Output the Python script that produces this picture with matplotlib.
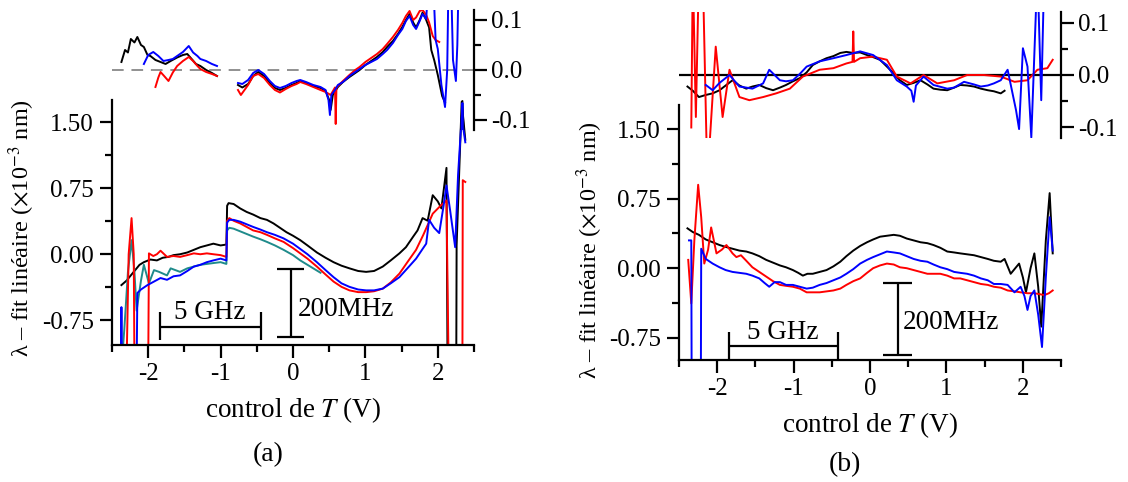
import numpy as np
import matplotlib
matplotlib.use("Agg")
import matplotlib.pyplot as plt
from matplotlib.ticker import MultipleLocator

plt.rcParams['font.family'] = ['Liberation Serif', 'DejaVu Serif']
plt.rcParams['mathtext.fontset'] = 'stix'
plt.rcParams['axes.unicode_minus'] = False

nan = np.nan
LOW = -1.3   # off-scale excursions (clipped by the axes)
HIGH = 0.2   # off-scale excursions in the insets

# ---------------- panel (a), main curves ----------------
a_black_x = [-2.37, -2.3, -2.2, -2.12, -2.06, -1.97, -1.88, -1.8, -1.72, -1.65, -1.56, -1.46, -1.37,
             -1.28, -1.19, -1.10, -1.0, -0.92, -0.91, -0.89, -0.82, -0.73, -0.64, -0.55, -0.45, -0.36,
             -0.27, -0.18, -0.09, 0.0, 0.10, 0.2, 0.33, 0.45, 0.56, 0.67, 0.78, 0.9, 1.01, 1.12, 1.24,
             1.35, 1.47, 1.56, 1.66, 1.72, 1.79, 1.86, 1.93, 2.0, 2.05, 2.12, 2.135, 2.255, 2.26, 2.33, 2.38]
a_black_y = [-0.35, -0.30, -0.20, -0.12, -0.09, -0.06, -0.07, -0.04, -0.03, -0.01, 0.0, 0.02, 0.05,
             0.08, 0.10, 0.12, 0.10, 0.11, 0.55, 0.58, 0.57, 0.52, 0.48, 0.45, 0.41, 0.39,
             0.35, 0.30, 0.25, 0.21, 0.16, 0.10, 0.02, -0.04, -0.09, -0.13, -0.16, -0.19, -0.20, -0.19, -0.14,
             -0.07, 0.01, 0.08, 0.20, 0.27, 0.41, 0.38, 0.67, 0.60, 0.52, 0.98, LOW, LOW, 0.10, 1.73, 1.30]

a_red_x = [-2.30, -2.27, -2.23, -2.20, -2.19, -2.0, -1.99, -1.93, -1.88, -1.83, -1.74, -1.65, -1.56,
           -1.46, -1.37, -1.28, -1.19, -1.1, -1.0, -0.92, -0.91, -0.88, -0.82, -0.73, -0.64, -0.55,
           -0.45, -0.36, -0.25, -0.13, 0.0, 0.10, 0.2, 0.33, 0.45, 0.56, 0.67, 0.78, 0.9, 1.01, 1.12,
           1.24, 1.35, 1.47, 1.58, 1.70, 1.80, 1.93, 2.05, 2.12, 2.15, 2.34, 2.345, 2.38]
a_red_y = [LOW, 0.0, 0.41, 0.0, LOW, LOW, 0.01, -0.02, 0.0, 0.04, -0.03, -0.02, -0.03,
           -0.01, 0.01, 0.0, 0.01, 0.0, -0.01, -0.03, 0.38, 0.41, 0.38, 0.35, 0.31, 0.27,
           0.25, 0.22, 0.18, 0.14, 0.07, 0.01, -0.05, -0.14, -0.23, -0.31, -0.37, -0.41, -0.43, -0.43, -0.42,
           -0.39, -0.32, -0.22, -0.09, 0.05, 0.22, 0.46, 0.56, 0.61, LOW, LOW, 0.84, 0.82]

a_blue_x = [-2.38, -2.37, -2.36, -2.16, -2.15, -2.10, -2.01, -1.92, -1.83, -1.74, -1.65, -1.56, -1.46,
            -1.37, -1.28, -1.19, -1.10, -1.0, -0.92, -0.91, -0.88, -0.82, -0.73, -0.64, -0.55, -0.45,
            -0.36, -0.25, -0.13, 0.0, 0.10, 0.2, 0.33, 0.45, 0.56, 0.67, 0.78, 0.9, 1.01, 1.12, 1.24,
            1.35, 1.47, 1.58, 1.70, 1.79, 1.84, 1.88, 1.95, 2.02, 2.08, 2.12, 2.17, 2.24, 2.28, 2.33, 2.38]
a_blue_y = [LOW, -0.60, LOW, LOW, -0.44, -0.40, -0.35, -0.31, -0.27, -0.29, -0.25, -0.24, -0.19,
            -0.14, -0.12, -0.09, -0.07, -0.05, -0.07, 0.36, 0.39, 0.39, 0.37, 0.34, 0.31, 0.28,
            0.25, 0.22, 0.18, 0.12, 0.06, 0.0, -0.09, -0.18, -0.26, -0.33, -0.37, -0.40, -0.41, -0.41, -0.39,
            -0.33, -0.26, -0.16, -0.05, 0.06, 0.12, 0.39, 0.30, 0.24, 0.55, 0.78, 0.50, 0.08, 0.90, 1.56, 1.27]

a_teal_x = [-2.37, -2.33, -2.28, -2.23, -2.19, -2.16, -2.10, -2.06, -1.99, -1.92, -1.85, -1.74, -1.69,
            -1.56, -1.46, -1.37, -1.28, -1.19, -1.1, -1.0, -0.92, -0.91, -0.88, -0.82, -0.73, -0.64,
            -0.55, -0.45, -0.36, -0.25, -0.13, 0.0, 0.10, 0.2, 0.30, 0.38]
a_teal_y = [LOW, -0.85, -0.20, 0.16, -0.20, -0.64, -0.30, -0.12, -0.33, -0.18, -0.20, -0.24, -0.16,
            -0.20, -0.16, -0.14, -0.12, -0.11, -0.10, -0.09, -0.11, 0.27, 0.30, 0.29, 0.26, 0.23,
            0.20, 0.17, 0.14, 0.10, 0.05, -0.01, -0.07, -0.12, -0.17, -0.21]

# ---------------- panel (a), inset (residuals) ----------------
ai_black_x = [-2.37, -2.32, -2.28, -2.24, -2.19, -2.15, -2.10, -2.06, -2.01, -1.97, -1.90, -1.83, -1.76,
              -1.69, -1.60, -1.52, -1.46, -1.40, -1.34, -1.28, -1.20, -1.12, -1.05, nan,
              -0.76, -0.70, -0.62, -0.55, -0.48, -0.40, -0.32, -0.25, -0.18, -0.10, -0.02, 0.05, 0.10,
              0.18, 0.28, 0.38, 0.45, 0.50, 0.52, 0.55, 0.62, 0.69, 0.78, 0.86, 0.92, 1.00, 1.08, 1.16,
              1.24, 1.30, 1.38, 1.45, 1.51, 1.56, 1.61, 1.66, 1.70, 1.75, 1.79, 1.84, 1.88, 1.91, 1.95,
              2.0, 2.06, 2.10, nan, 2.32, 2.34, 2.36]
ai_black_y = [0.016, 0.04, 0.035, 0.062, 0.055, 0.066, 0.05, 0.046, 0.03, 0.028, 0.02, 0.016, 0.012,
              0.018, 0.025, 0.03, 0.032, 0.022, 0.012, 0.008, 0.0, -0.006, -0.012, nan,
              -0.03, -0.035, -0.028, -0.012, -0.004, -0.012, -0.026, -0.036, -0.04, -0.036, -0.03, -0.026, -0.022,
              -0.026, -0.032, -0.036, -0.042, -0.06, -0.08, -0.05, -0.034, -0.024, -0.014, -0.006, 0.0, 0.01, 0.018, 0.026,
              0.036, 0.046, 0.058, 0.072, 0.086, 0.10, 0.112, 0.095, 0.085, 0.10, 0.115, 0.10, 0.085, 0.04, 0.02,
              -0.01, -0.052, -0.065, nan, -0.14, -0.062, -0.14]

ai_red_x = [-1.90, -1.86, -1.83, -1.78, -1.72, -1.66, -1.60, -1.52, -1.44, -1.38, -1.32, -1.28, -1.20,
            -1.12, -1.05, nan, -0.76, -0.72, -0.68, -0.62, -0.55, -0.48, -0.40, -0.32, -0.25, -0.18,
            -0.10, -0.02, 0.05, 0.10, 0.18, 0.28, 0.38, 0.45, 0.52, 0.58, 0.59, 0.60, 0.69, 0.78, 0.86,
            0.92, 1.00, 1.08, 1.16, 1.24, 1.30, 1.38, 1.45, 1.51, 1.56, 1.61, 1.66, 1.70, 1.75, 1.79,
            1.84, 1.88, 1.93, 1.97, 2.02]
ai_red_y = [-0.034, -0.015, -0.004, -0.012, -0.022, -0.005, 0.008, 0.018, 0.026, 0.018, 0.008, 0.002, -0.004,
            -0.008, -0.012, nan, -0.04, -0.05, -0.042, -0.03, -0.012, -0.008, -0.016, -0.03, -0.04, -0.045,
            -0.038, -0.032, -0.028, -0.024, -0.028, -0.034, -0.04, -0.044, -0.05, -0.035, -0.108, -0.035, -0.022, -0.01, 0.0,
            0.006, 0.016, 0.024, 0.032, 0.042, 0.052, 0.066, 0.08, 0.094, 0.108, 0.118, 0.10, 0.105, 0.118, 0.12,
            0.11, 0.095, 0.068, 0.06, 0.056]

ai_blue_x = [-2.06, -2.0, -1.93, -1.86, -1.79, -1.72, -1.66, -1.60, -1.52, -1.44, -1.38, -1.32, -1.28,
             -1.20, -1.12, -1.05, nan, -0.76, -0.70, -0.62, -0.55, -0.48, -0.40, -0.32, -0.25, -0.18,
             -0.10, -0.02, 0.05, 0.10, 0.18, 0.28, 0.38, 0.45, 0.49, 0.51, 0.53, 0.58, 0.62, 0.69, 0.78,
             0.86, 0.92, 1.00, 1.08, 1.16, 1.24, 1.30, 1.38, 1.45, 1.51, 1.56, 1.61, 1.66, 1.70, 1.75,
             1.79, 1.84, 1.88, 1.93, 1.97, 2.0, 2.05, 2.10, 2.13, 2.15, 2.18, 2.21, 2.25, 2.27, 2.29,
             nan, 2.33, 2.34, 2.35]
ai_blue_y = [0.012, 0.03, 0.036, 0.028, 0.018, 0.02, 0.022, 0.028, 0.036, 0.048, 0.035, 0.028, 0.022,
             0.018, 0.012, 0.008, nan, -0.026, -0.028, -0.02, -0.006, 0.0, -0.008, -0.022, -0.032, -0.036,
             -0.032, -0.026, -0.022, -0.02, -0.024, -0.03, -0.034, -0.04, -0.06, -0.09, -0.05, -0.04, -0.03, -0.024, -0.012,
             -0.004, 0.002, 0.01, 0.016, 0.022, 0.032, 0.04, 0.054, 0.07, 0.082, 0.098, 0.108, 0.09, 0.082, 0.098,
             0.112, 0.102, HIGH, HIGH, 0.06, 0.042, -0.03, -0.074, 0.0, HIGH, HIGH, 0.02, -0.022, 0.05, HIGH,
             nan, -HIGH, -0.066, -HIGH]

# ---------------- panel (b), main curves ----------------
b_black_x = [-2.39, -2.32, -2.24, -2.15, -2.06, -1.97, -1.89, -1.80, -1.71, -1.62, -1.54, -1.45, -1.36,
             -1.27, -1.18, -1.10, -1.01, -0.94, -0.88, -0.82, -0.75, -0.66, -0.57, -0.48, -0.39, -0.31,
             -0.22, -0.13, -0.04, 0.04, 0.13, 0.22, 0.31, 0.39, 0.48, 0.57, 0.66, 0.75, 0.83, 0.92, 1.01,
             1.10, 1.18, 1.27, 1.36, 1.45, 1.54, 1.62, 1.71, 1.76, 1.84, 1.90, 1.95, 2.0, 2.04, 2.10, 2.15,
             2.20, 2.24, 2.30, 2.35, 2.39]
b_black_y = [0.43, 0.39, 0.36, 0.31, 0.28, 0.25, 0.23, 0.21, 0.19, 0.18, 0.16, 0.13, 0.09,
             0.06, 0.03, 0.01, -0.02, -0.05, -0.08, -0.06, -0.06, -0.04, -0.02, 0.02, 0.07, 0.13,
             0.19, 0.24, 0.28, 0.31, 0.34, 0.35, 0.36, 0.35, 0.32, 0.30, 0.28, 0.27, 0.25, 0.22, 0.18,
             0.17, 0.16, 0.15, 0.14, 0.12, 0.10, 0.08, 0.07, 0.10, -0.06, 0.0, 0.05, -0.10, -0.26, 0.0, 0.16,
             -0.20, -0.63, 0.30, 0.81, 0.16]

b_blue_x = [-2.37, -2.34, -2.335, -2.215, -2.21, -2.15, -2.06, -1.97, -1.89, -1.80, -1.71, -1.62, -1.54,
            -1.45, -1.38, -1.32, -1.25, -1.18, -1.10, -1.01, -0.92, -0.83, -0.75, -0.66, -0.57, -0.48,
            -0.39, -0.31, -0.22, -0.13, -0.04, 0.04, 0.13, 0.22, 0.31, 0.39, 0.48, 0.57, 0.66, 0.75, 0.83,
            0.92, 1.01, 1.10, 1.18, 1.27, 1.36, 1.45, 1.54, 1.62, 1.71, 1.80, 1.89, 1.97, 2.02, 2.06, 2.10,
            2.15, 2.20, 2.25, 2.30, 2.35, 2.39]
b_blue_y = [0.30, 0.30, LOW, LOW, 0.21, 0.10, 0.05, 0.01, -0.02, -0.04, -0.05, -0.06, -0.08,
            -0.11, -0.16, -0.20, -0.15, -0.15, -0.18, -0.18, -0.20, -0.22, -0.21, -0.18, -0.16, -0.13,
            -0.10, -0.06, -0.01, 0.05, 0.09, 0.12, 0.15, 0.18, 0.17, 0.16, 0.13, 0.10, 0.08, 0.07, 0.04,
            0.01, -0.01, -0.04, -0.05, -0.06, -0.08, -0.11, -0.13, -0.17, -0.17, -0.18, -0.26, -0.20, -0.30, -0.45, -0.30,
            -0.24, -0.50, -0.85, -0.10, 0.55, 0.19]

b_red_x = [-2.38, -2.34, -2.30, -2.25, -2.21, -2.17, -2.12, -2.08, -2.01, -1.94, -1.88, -1.80, -1.75,
           -1.69, -1.62, -1.54, -1.45, -1.36, -1.27, -1.18, -1.10, -1.01, -0.92, -0.83, -0.75, -0.66,
           -0.57, -0.48, -0.39, -0.31, -0.22, -0.13, -0.04, 0.04, 0.13, 0.22, 0.31, 0.39, 0.48, 0.57,
           0.66, 0.75, 0.83, 0.92, 1.01, 1.10, 1.18, 1.27, 1.36, 1.45, 1.54, 1.62, 1.71, 1.80, 1.89,
           1.97, 2.06, 2.15, 2.22, 2.28, 2.34, 2.39]
b_red_y = [0.09, -0.38, 0.30, 0.90, 0.55, 0.05, 0.20, 0.44, 0.16, 0.20, 0.25, 0.16, 0.12,
           0.14, 0.08, 0.01, -0.04, -0.09, -0.14, -0.18, -0.19, -0.20, -0.22, -0.26, -0.26, -0.26,
           -0.25, -0.24, -0.22, -0.18, -0.14, -0.11, -0.05, 0.0, 0.03, 0.05, 0.04, 0.01, 0.0, -0.02,
           -0.04, -0.06, -0.06, -0.06, -0.08, -0.11, -0.11, -0.13, -0.15, -0.17, -0.18, -0.20, -0.21, -0.24, -0.25,
           -0.26, -0.27, -0.27, -0.28, -0.29, -0.27, -0.24]

# ---------------- panel (b), inset (residuals) ----------------
bi_black_x = [-2.39, -2.32, -2.24, -2.15, -2.06, -1.97, -1.89, -1.80, -1.71, -1.62, -1.54, -1.45, -1.36,
              -1.27, -1.18, -1.10, -1.01, -0.92, -0.83, -0.75, -0.66, -0.57, -0.48, -0.39, -0.31, -0.22,
              -0.13, -0.04, 0.04, 0.13, 0.22, 0.31, 0.39, 0.48, 0.57, 0.66, 0.75, 0.83, 0.92, 1.01, 1.10,
              1.18, 1.27, 1.36, 1.45, 1.54, 1.62, 1.71, 1.76]
bi_black_y = [-0.022, -0.03, -0.042, -0.038, -0.035, -0.029, -0.02, -0.010, -0.02, -0.026, -0.022, -0.019, -0.025,
              -0.029, -0.024, -0.019, -0.012, -0.006, 0.005, 0.019, 0.026, 0.032, 0.036, 0.042, 0.044, 0.042,
              0.043, 0.038, 0.034, 0.029, 0.016, 0.003, -0.01, -0.019, -0.015, -0.010, -0.018, -0.026, -0.028, -0.029, -0.024,
              -0.019, -0.02, -0.022, -0.026, -0.029, -0.031, -0.035, -0.03]

bi_blue_x = [-2.15, -2.06, -1.97, -1.84, -1.71, -1.62, -1.54, -1.40, -1.32, -1.18, -1.10, -1.01, -0.92,
             -0.83, -0.66, -0.48, -0.31, -0.13, 0.04, 0.22, 0.35, 0.48, 0.54, 0.57, 0.60, 0.70, 0.83,
             1.01, 1.10, 1.23, 1.36, 1.45, 1.54, 1.62, 1.71, 1.80, 1.91, 1.95, 2.0, 2.06, 2.11, 2.19,
             2.24, 2.28]
bi_blue_y = [-0.019, -0.029, -0.015, 0.0, -0.022, -0.024, -0.026, -0.016, 0.010, -0.010, -0.012, -0.010, 0.002,
             0.016, 0.026, 0.032, 0.038, 0.045, 0.038, 0.019, -0.010, -0.022, -0.03, -0.051, -0.02, -0.003, -0.019,
             -0.026, -0.024, -0.013, -0.018, -0.022, -0.02, -0.016, -0.01, 0.010, -0.067, -0.103, 0.051, 0.016, -0.119, HIGH,
             -0.048, HIGH]

bi_red_x = [-2.34, -2.32, -2.28, -2.24, -2.19, -2.13, -2.02, -1.93, -1.84, -1.71, -1.58, -1.40, -1.23,
            -1.05, -0.88, -0.66, -0.48, -0.31, -0.23, -0.22, -0.21, -0.13, 0.04, 0.22, 0.35, 0.53, 0.70,
            0.88, 1.10, 1.27, 1.49, 1.71, 1.89, 2.06, 2.19, 2.32, 2.39]
bi_red_y = [-0.10, HIGH, -0.080, HIGH, HIGH, -HIGH, 0.054, -0.080, 0.010, -0.042, -0.048, -0.042, -0.035,
            -0.026, -0.003, 0.010, 0.013, 0.022, 0.025, 0.083, 0.025, 0.032, 0.035, 0.029, -0.003, -0.016, 0.0,
            -0.016, -0.010, 0.0, 0.0, -0.003, -0.013, -0.010, 0.010, 0.013, 0.029]

x_ticks = [-2, -1, 0, 1, 2]
main_yticks = [-0.75, 0.0, 0.75, 1.50]
main_ylabels = ['-0.75', '0.00', '0.75', '1.50']
inset_yticks = [-0.1, 0.0, 0.1]
inset_ylabels = ['-0.1', '0.0', '0.1']

TEAL = '#1f8b8b'
FS_TICK = 18
FS_LABEL = 19.5
FS_YLAB = 17.5
FS_NOTE = 19.5
FS_CAP = 20
LW = 1.4

fig = plt.figure(figsize=(11.28, 4.82), dpi=100)


def style_main(ax, ylim):
    ax.set_xlim(-2.5, 2.5)
    ax.set_ylim(*ylim)
    ax.spines['top'].set_visible(False)
    ax.spines['right'].set_visible(False)
    for s in ('left', 'bottom'):
        ax.spines[s].set_linewidth(1.6)
    ax.set_xticks(x_ticks)
    ax.xaxis.set_minor_locator(MultipleLocator(0.5))
    ax.set_yticks(main_yticks)
    ax.set_yticklabels(main_ylabels)
    ax.yaxis.set_minor_locator(MultipleLocator(0.375))
    ax.tick_params(which='major', direction='out', length=9, width=1.6, labelsize=FS_TICK, pad=4)
    ax.tick_params(which='minor', direction='out', length=5, width=1.6)
    ax.set_xlabel('control de $T$ (V)', fontsize=FS_LABEL, labelpad=7)


def style_inset(ax):
    ax.set_xlim(-2.5, 2.5)
    ax.set_ylim(-0.12, 0.12)
    ax.patch.set_alpha(0)
    for s in ('left', 'top', 'bottom'):
        ax.spines[s].set_visible(False)
    ax.spines['right'].set_linewidth(1.6)
    ax.set_xticks([])
    ax.yaxis.tick_right()
    ax.set_yticks(inset_yticks)
    ax.set_yticklabels(inset_ylabels)
    ax.yaxis.set_minor_locator(MultipleLocator(0.05))
    ax.tick_params(which='major', direction='out', length=9, width=1.6, labelsize=FS_TICK, pad=3)
    ax.tick_params(which='minor', direction='out', length=5, width=1.6)


def scale_bars(ax, hx, hy, hcap, vx, vy, vcap, tx5, ty5, tx2, ty2):
    kw = dict(color='black', lw=1.6, solid_capstyle='butt', clip_on=False)
    ax.plot(hx, [hy, hy], **kw)
    ax.plot([hx[0], hx[0]], hcap, **kw)
    ax.plot([hx[1], hx[1]], hcap, **kw)
    ax.plot([vx, vx], vy, **kw)
    ax.plot(vcap, [vy[0], vy[0]], **kw)
    ax.plot(vcap, [vy[1], vy[1]], **kw)
    ax.text(tx5, ty5, '5 GHz', fontsize=FS_NOTE, ha='center', va='center')
    ax.text(tx2, ty2, '200MHz', fontsize=FS_NOTE, ha='left', va='center')


ylab = 'λ – fit linéaire ($\\times$10$^{-3}$ nm)'

# ---- panel (a)
ax_a = fig.add_axes([0.0993, 0.2842, 0.3209, 0.5083])
ax_a.plot(a_black_x, a_black_y, color='black', lw=LW)
ax_a.plot(a_teal_x, a_teal_y, color=TEAL, lw=LW)
ax_a.plot(a_red_x, a_red_y, color='red', lw=LW)
ax_a.plot(a_blue_x, a_blue_y, color='blue', lw=LW)
style_main(ax_a, (-1.03, 1.75))
scale_bars(ax_a, [-1.84, -0.44], -0.83, [-0.66, -0.97], -0.03, [-0.17, -0.94], [-0.22, 0.15],
           -1.15, -0.66, 0.06, -0.63)

ins_a = fig.add_axes([0.0993, 0.7303, 0.3209, 0.249])
ins_a.axhline(0, color='#909090', lw=1.4, ls=(0, (6, 4)))
ins_a.plot(ai_black_x, ai_black_y, color='black', lw=LW)
ins_a.plot(ai_red_x, ai_red_y, color='red', lw=LW)
ins_a.plot(ai_blue_x, ai_blue_y, color='blue', lw=LW)
style_inset(ins_a)

fig.text(0.0195, 1 - 228 / 482, ylab, rotation=90, ha='center', va='center', fontsize=FS_YLAB)
fig.text(268 / 1128, 1 - 455 / 482, '(a)', ha='center', va='center', fontsize=FS_CAP)

# ---- panel (b)
ax_b = fig.add_axes([0.602, 0.2531, 0.3387, 0.529])
ax_b.plot(b_black_x, b_black_y, color='black', lw=LW)
ax_b.plot(b_red_x, b_red_y, color='red', lw=LW)
ax_b.plot(b_blue_x, b_blue_y, color='blue', lw=LW)
style_main(ax_b, (-0.99, 1.76))
scale_bars(ax_b, [-1.84, -0.42], -0.84, [-0.69, -0.99], 0.36, [-0.16, -0.94], [0.17, 0.55],
           -1.14, -0.69, 0.43, -0.59)

ins_b = fig.add_axes([0.602, 0.7137, 0.3387, 0.2614])
ins_b.axhline(0, color='black', lw=1.6)
ins_b.plot(bi_black_x, bi_black_y, color='black', lw=LW)
ins_b.plot(bi_red_x, bi_red_y, color='red', lw=LW)
ins_b.plot(bi_blue_x, bi_blue_y, color='blue', lw=LW)
style_inset(ins_b)

fig.text(590 / 1128, 1 - 250 / 482, ylab, rotation=90, ha='center', va='center', fontsize=FS_YLAB)
fig.text(845 / 1128, 1 - 465 / 482, '(b)', ha='center', va='center', fontsize=FS_CAP)

fig.savefig('out.png', dpi=100)
